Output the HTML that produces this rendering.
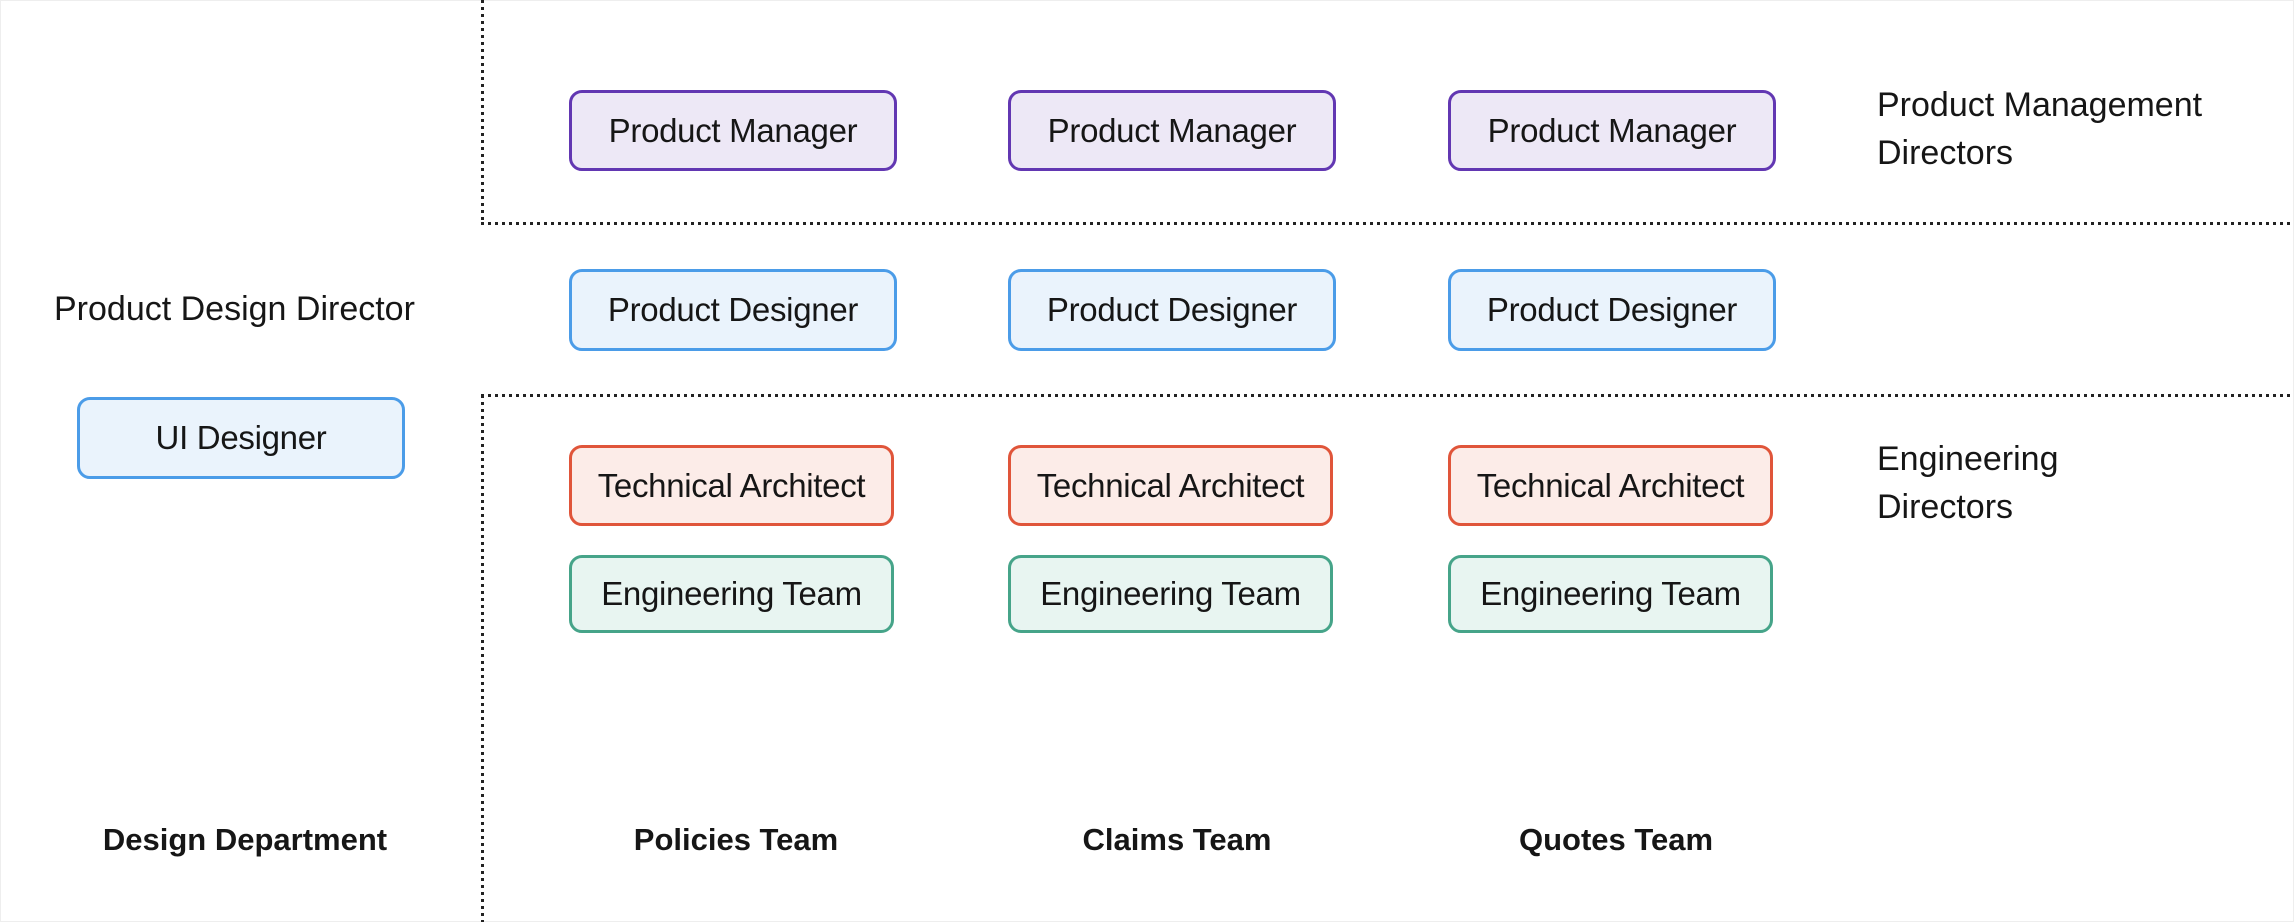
<!DOCTYPE html>
<html><head><meta charset="utf-8"><style>
body{margin:0;width:2294px;height:922px;background:#fff;position:relative;overflow:hidden;font-family:"Liberation Sans",sans-serif;color:#161616}
.b{position:absolute;box-sizing:border-box;border:3px solid;border-radius:13px;display:flex;align-items:center;justify-content:center;font-size:33px;white-space:nowrap;letter-spacing:-0.3px}
.pm{border-color:#6237b2;background:#ede8f6}
.pd{border-color:#4b9ce8;background:#eaf3fc}
.ta{border-color:#e0553a;background:#fcece8}
.et{border-color:#46a489;background:#e8f5f1}
.t{position:absolute;font-size:34px;line-height:48px;white-space:nowrap}
.h{position:absolute;font-size:31px;font-weight:bold;transform:translateX(-50%);white-space:nowrap}
.v{position:absolute;width:3px;background:repeating-linear-gradient(to bottom,#222 0 3px,transparent 3px 7px)}
.hz{position:absolute;height:3px;background:repeating-linear-gradient(to right,#222 0 3px,transparent 3px 7px)}
</style></head><body>
<div style="position:absolute;left:0;top:0;width:2292px;height:920px;border:1px solid #eee"></div>
<div class="v" style="left:481px;top:0;height:224px"></div>
<div class="v" style="left:481px;top:395px;height:527px"></div>
<div class="hz" style="left:481px;top:222px;width:1813px"></div>
<div class="hz" style="left:481px;top:394px;width:1813px"></div>

<div class="b pm" style="left:569px;top:90px;width:328px;height:81px">Product Manager</div>
<div class="b pm" style="left:1008px;top:90px;width:328px;height:81px">Product Manager</div>
<div class="b pm" style="left:1448px;top:90px;width:328px;height:81px">Product Manager</div>

<div class="b pd" style="left:569px;top:269px;width:328px;height:82px">Product Designer</div>
<div class="b pd" style="left:1008px;top:269px;width:328px;height:82px">Product Designer</div>
<div class="b pd" style="left:1448px;top:269px;width:328px;height:82px">Product Designer</div>

<div class="b pd" style="left:77px;top:397px;width:328px;height:82px">UI Designer</div>

<div class="b ta" style="left:569px;top:445px;width:325px;height:81px">Technical Architect</div>
<div class="b ta" style="left:1008px;top:445px;width:325px;height:81px">Technical Architect</div>
<div class="b ta" style="left:1448px;top:445px;width:325px;height:81px">Technical Architect</div>

<div class="b et" style="left:569px;top:555px;width:325px;height:78px">Engineering Team</div>
<div class="b et" style="left:1008px;top:555px;width:325px;height:78px">Engineering Team</div>
<div class="b et" style="left:1448px;top:555px;width:325px;height:78px">Engineering Team</div>

<div class="t" style="left:1877px;top:81px">Product Management<br>Directors</div>
<div class="t" style="left:1877px;top:435px">Engineering<br>Directors</div>
<div class="t" style="left:54px;top:285px">Product Design Director</div>

<div class="h" style="left:245px;top:822px">Design Department</div>
<div class="h" style="left:736px;top:822px">Policies Team</div>
<div class="h" style="left:1177px;top:822px">Claims Team</div>
<div class="h" style="left:1616px;top:822px">Quotes Team</div>
</body></html>
